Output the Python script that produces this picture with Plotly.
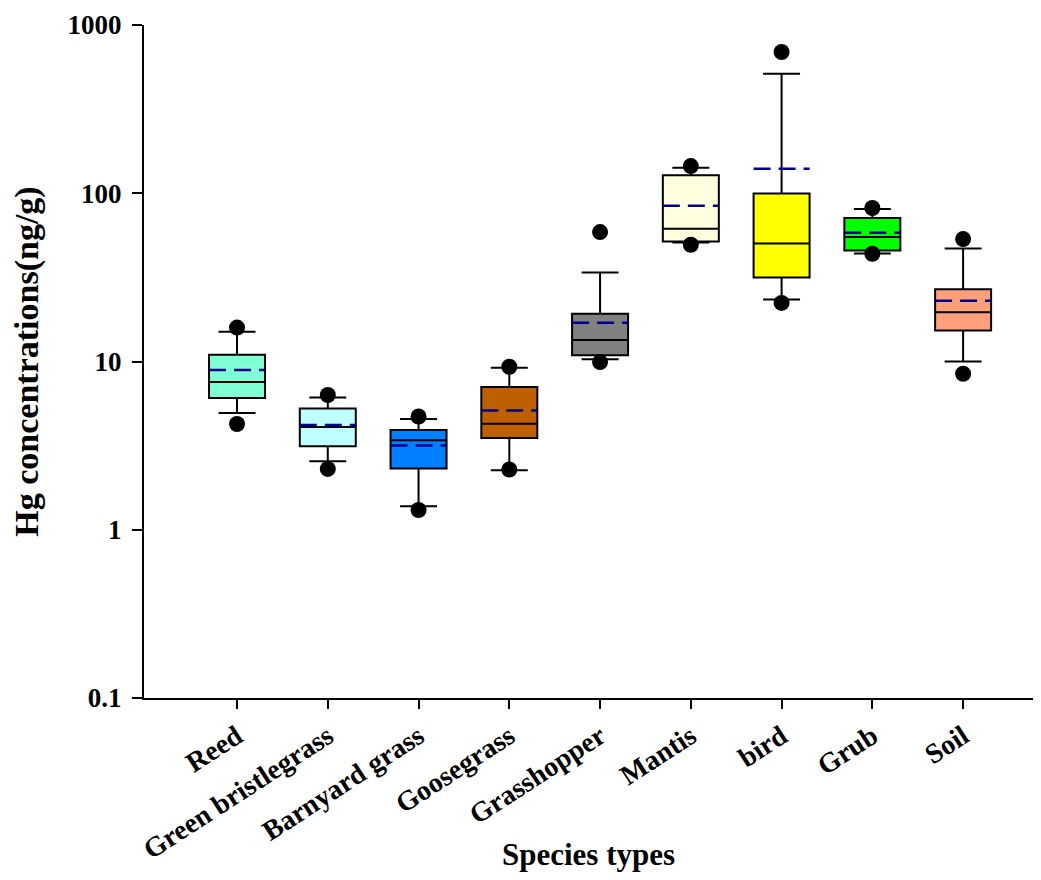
import plotly.graph_objects as go

categories = ["Reed", "Green bristlegrass", "Barnyard grass", "Goosegrass",
              "Grasshopper", "Mantis", "bird", "Grub", "Soil"]
q1 = [6.06, 3.14, 2.31, 3.51, 10.9, 51.7, 31.6, 45.7, 15.3]
median = [7.55, 4.08, 3.40, 4.27, 13.4, 61.5, 50.3, 54.9, 19.6]
q3 = [10.97, 5.26, 3.91, 7.05, 19.2, 128.0, 99.7, 71.2, 26.9]
lower_whisker = [4.94, 2.55, 1.38, 2.26, 10.3, 51.0, 23.4, 43.9, 10.0]
upper_whisker = [15.0, 6.11, 4.55, 9.18, 33.8, 142.0, 513.0, 80.5, 47.0]
mean = [8.90, 4.19, 3.17, 5.12, 17.0, 84.3, 140.0, 58.3, 23.0]
outlier_low = [4.25, 2.30, 1.31, 2.28, 9.92, 49.4, 22.3, 43.7, 8.46]
outlier_high = [15.9, 6.32, 4.71, 9.31, 58.8, 145.0, 691.0, 81.7, 53.4]
fill_colors = ["#7FFFD4", "#C0FFFF", "#0080FF", "#BF6000", "#808080",
               "#FFFFE0", "#FFFF00", "#00FF00", "#FFA07A"]

y_tickvals = [0.1, 1, 10, 100, 1000]
y_ticktext = ["0.1", "1", "10", "100", "1000"]

FONT = "Liberation Serif, Times New Roman, serif"
BOX_W = 0.617

fig = go.Figure()
pos = list(range(len(categories)))

for i, name in enumerate(categories):
    fig.add_trace(go.Box(
        x=[pos[i]], q1=[q1[i]], median=[median[i]], q3=[q3[i]],
        lowerfence=[lower_whisker[i]], upperfence=[upper_whisker[i]],
        name=name, fillcolor=fill_colors[i],
        line=dict(color="black", width=2),
        width=BOX_W, whiskerwidth=0.66, showlegend=False,
        boxpoints=False, hoverinfo="skip",
    ))

# mean lines (dashed, dark blue)
for i in range(len(categories)):
    fig.add_trace(go.Scatter(
        x=[pos[i] - BOX_W / 2, pos[i] + BOX_W / 2], y=[mean[i], mean[i]],
        mode="lines", line=dict(color="#00008B", width=2.5, dash="17px,8px"),
        showlegend=False, hoverinfo="skip",
    ))

# outlier points
fig.add_trace(go.Scatter(
    x=pos + pos, y=outlier_low + outlier_high, mode="markers",
    marker=dict(color="black", size=16), showlegend=False, hoverinfo="skip",
))

fig.update_layout(
    width=1025, height=864,
    margin=dict(l=136, r=0, t=17, b=174, autoexpand=False),
    paper_bgcolor="white", plot_bgcolor="white",
    font=dict(family=FONT, color="black"),
    showlegend=False,
)
fig.update_xaxes(
    range=[-1.025, 8.77], tickmode="array", tickvals=pos, ticktext=categories,
    tickangle=-33, tickfont=dict(family=FONT, size=28, color="black", weight="bold"),
    showline=True, linecolor="black", linewidth=2, ticks="outside",
    ticklen=9, tickwidth=2, tickcolor="black", showgrid=False, zeroline=False,
    title=dict(text="<b>Species types</b>", font=dict(family=FONT, size=31),
               standoff=17),
    automargin=False,
)
fig.update_yaxes(
    type="log", range=[-1, 3], tickmode="array", tickvals=y_tickvals,
    ticktext=y_ticktext, ticklabelstandoff=5,
    tickfont=dict(family=FONT, size=27, color="black", weight="bold"),
    showline=True, linecolor="black", linewidth=2, ticks="outside",
    ticklen=10, tickwidth=2, tickcolor="black", showgrid=False, zeroline=False,
    title=dict(text="<b>Hg concentrations(ng/g)</b>", font=dict(family=FONT, size=34),
               standoff=20),
    automargin=False,
)

fig.write_html("out.html")
